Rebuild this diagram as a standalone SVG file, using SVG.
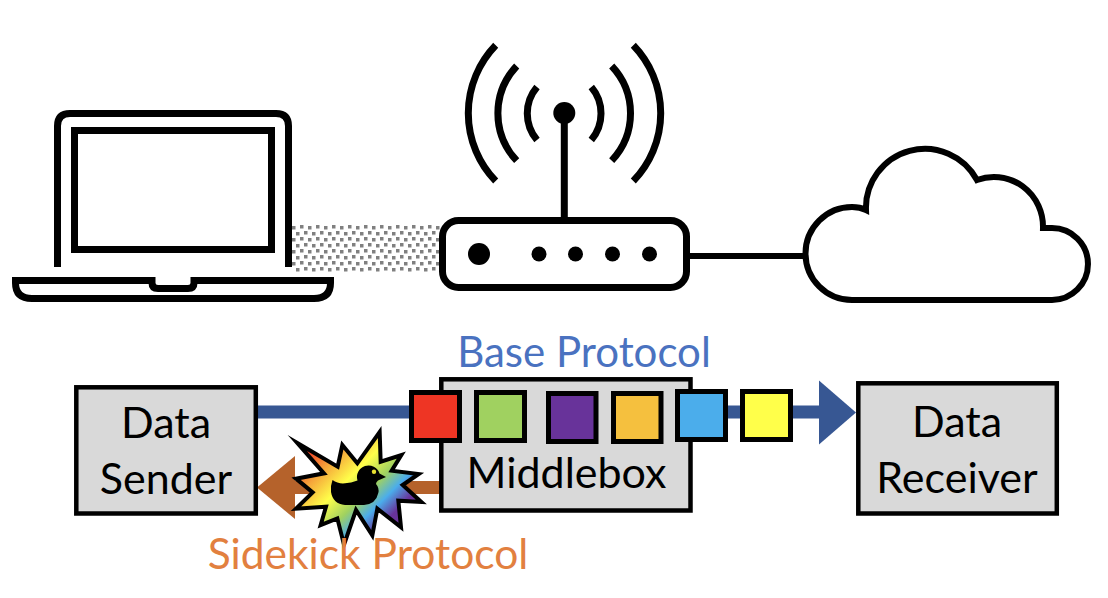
<svg xmlns="http://www.w3.org/2000/svg" width="1108" height="598" viewBox="0 0 1108 598">
<style>
.ol{fill:none;stroke:#000;stroke-width:7}
.box{fill:#d9d9d9;stroke:#000;stroke-width:4.5}
.pk{stroke:#000;stroke-width:5}
text{font-family:"Lato","Open Sans",sans-serif;font-size:43px;text-anchor:middle;fill:#000}
.base{fill:#4a72c0;font-size:42px}
.side{fill:#e2803f;font-size:42.500px}
.dot{fill:#808080}
</style>
<defs>
<pattern id="dither" width="16" height="12" patternUnits="userSpaceOnUse" x="292" y="225">
<rect class="dot" x="0" y="1" width="3.500" height="3.500"/>
<rect class="dot" x="8" y="0" width="3.500" height="3.500"/>
<rect class="dot" x="4" y="7" width="3.500" height="3.500"/>
<rect class="dot" x="12" y="6" width="3.500" height="3.500"/>
</pattern>
<linearGradient id="rainbow" gradientUnits="userSpaceOnUse" x1="240" y1="81" x2="465" y2="306">
<stop offset="0" stop-color="#ee3524"/>
<stop offset="0.24" stop-color="#f5a53a"/>
<stop offset="0.47" stop-color="#ffff4a"/>
<stop offset="0.68" stop-color="#a0d160"/>
<stop offset="0.84" stop-color="#4badeb"/>
<stop offset="1" stop-color="#68339a"/>
</linearGradient>
</defs>
<g id="connectors">
<rect id="wireless-link" x="292" y="225" width="148" height="47" fill="url(#dither)"/>
<path id="wired-link" d="M688 256H804" stroke="#000" stroke-width="6" fill="none"/>
<rect id="base-shaft" x="258" y="405.500" width="562" height="13" fill="#375793"/>
<path id="base-head" d="M819 380.500V444.500L856 412.500Z" fill="#375793"/>
<rect id="side-shaft" x="290" y="481" width="151" height="13" fill="#b5622b"/>
<path id="side-head" d="M257 487.500L295 456V519Z" fill="#b5622b"/>
</g>
<g id="laptop">
<path class="ol" d="M57.500 267V126Q57.500 113.500 70 113.500H276Q288.500 113.500 288.500 126V267"/>
<rect class="ol" x="74.500" y="130.500" width="197" height="119"/>
<path class="ol" d="M15.500 280.500H152V283Q152 288.500 158 288.500H188Q194 288.500 194 283V280.500H330.500V283Q330.500 298.500 314 298.500H32Q15.500 298.500 15.500 283Z"/>
</g>
<g id="router">
<path class="ol" d="M564.300 113V220"/>
<circle cx="564.300" cy="113" r="11"/>
<path class="ol" d="M537 87A41 41 0 0 0 537 140M516.700 66A69 69 0 0 0 516.700 160.700M495.700 45.300A97.700 97.700 0 0 0 495.700 181M591.300 87A41 41 0 0 1 591.300 140M611.700 66A69 69 0 0 1 611.700 160.700M633.300 45.300A97.700 97.700 0 0 1 633.300 181"/>
<rect x="442.500" y="220.500" width="244" height="67" rx="16" fill="#fff" stroke="#000" stroke-width="7"/>
<circle cx="479" cy="254" r="11"/>
<circle cx="539" cy="254" r="7.500"/>
<circle cx="575.500" cy="254" r="7.500"/>
<circle cx="612.500" cy="254" r="7.500"/>
<circle cx="649.500" cy="254" r="7.500"/>
</g>
<g id="cloud">
<path d="M852 300A46.500 46.500 0 0 1 852 207Q860 207 866 210A59 59 0 0 1 977 180A49 50 0 0 1 1043 228H1052A36 36 0 0 1 1052 300Z" fill="#fff" stroke="#000" stroke-width="6" stroke-linejoin="miter"/>
</g>
<g id="data-sender">
<rect class="box" x="76.300" y="387.300" width="179.500" height="126.200"/>
<text x="166" y="438">Data</text>
<text x="166" y="494">Sender</text>
</g>
<g id="middlebox">
<rect class="box" x="441.300" y="379.300" width="249.200" height="131.200"/>
<text x="566.500" y="488">Middlebox</text>
</g>
<g id="data-receiver">
<rect class="box" x="858.300" y="383.300" width="198.500" height="130.200"/>
<text x="957" y="437">Data</text>
<text x="957" y="493">Receiver</text>
</g>
<g id="packets">
<rect class="pk" x="411.500" y="392.500" width="48" height="48" fill="#ee3524"/>
<rect class="pk" x="476.500" y="392.500" width="48" height="48" fill="#a0d160"/>
<rect class="pk" x="548.500" y="393.500" width="47.500" height="48" fill="#68339a"/>
<rect class="pk" x="613.500" y="393.500" width="47.500" height="48" fill="#f5c03e"/>
<rect class="pk" x="677.500" y="391.500" width="48" height="48" fill="#4badeb"/>
<rect class="pk" x="742.500" y="391.500" width="48" height="48" fill="#ffff4a"/>
</g>
<g id="sidekick-burst">
<path transform="translate(240 410) scale(.33333)" d="M172 99L293 170L307 105L352 160L419 66L422 155L484 135L455 182L536 192L488 225L544 276L475 272L483 352L412 296L397 376L348 300L312 404L292 325L242 345L258 290L168 296L218 247L168 206L252 190Z" fill="url(#rainbow)" stroke="#000" stroke-width="12" stroke-miterlimit="20"/>
<path id="duck" d="M332.500 480Q338 484 345 483.300Q351 483 357.500 480.500A11.500 11.500 0 1 1 379.500 473.500L386 477L378 480.500Q376 482 376 484Q379.500 488 378.300 493Q376 504 364 505H345Q333 504 331 492Q330.500 485 332.500 480Z"/>
<circle cx="374" cy="471.700" r="2.200" fill="#e8e030"/>
</g>
<g id="labels">
<text class="base" x="584" y="367">Base Protocol</text>
<text class="side" x="368" y="569.300">Sidekick Protocol</text>
</g>
</svg>
